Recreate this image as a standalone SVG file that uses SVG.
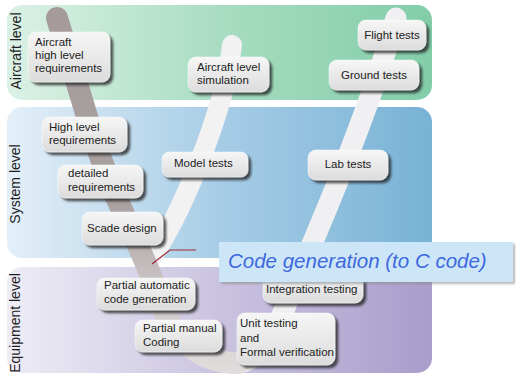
<svg xmlns="http://www.w3.org/2000/svg" width="516" height="375" viewBox="0 0 516 375">
<style>
.box{fill:url(#boxg);stroke:#ffffff;stroke-opacity:.6;stroke-width:.8;filter:url(#sh)}
.t{font-family:"Liberation Sans",Arial,sans-serif;font-size:11.5px;fill:#222}
.lvl{font-family:"Liberation Sans",Arial,sans-serif;font-size:14px;fill:#1e1e1e}
.m{text-anchor:middle}
</style>
<defs>
<linearGradient id="gA" x1="0" y1="0" x2="1" y2="0"><stop offset="0" stop-color="#dcf1e6"/><stop offset="0.55" stop-color="#a4dbbf"/><stop offset="1" stop-color="#82cda8"/></linearGradient>
<linearGradient id="gS" x1="0" y1="0" x2="1" y2="0"><stop offset="0" stop-color="#e4eff8"/><stop offset="0.5" stop-color="#a7cde6"/><stop offset="1" stop-color="#78b2d5"/></linearGradient>
<linearGradient id="gE" x1="0" y1="0" x2="1" y2="0"><stop offset="0" stop-color="#eeedf6"/><stop offset="0.5" stop-color="#cac3e0"/><stop offset="1" stop-color="#a99dcb"/></linearGradient>
<linearGradient id="boxg" x1="0" y1="0" x2="0" y2="1"><stop offset="0" stop-color="#f6f6f6"/><stop offset="1" stop-color="#dcdcdc"/></linearGradient>
<linearGradient id="grayArm" gradientUnits="userSpaceOnUse" x1="0" y1="0" x2="0" y2="370"><stop offset="0" stop-color="#a59b9b"/><stop offset="0.55" stop-color="#a9a0a0"/><stop offset="0.75" stop-color="#c8c1c1"/><stop offset="1" stop-color="#e0dcdc"/></linearGradient>
<filter id="sh" x="-10%" y="-20%" width="130%" height="150%"><feGaussianBlur in="SourceAlpha" stdDeviation="1.2"/><feOffset dx="2.5" dy="2.5" result="b"/><feFlood flood-color="#222" flood-opacity="0.75"/><feComposite in2="b" operator="in"/><feMerge><feMergeNode/><feMergeNode in="SourceGraphic"/></feMerge></filter>
<filter id="sh2" x="-5%" y="-20%" width="110%" height="150%"><feGaussianBlur in="SourceAlpha" stdDeviation="1"/><feOffset dx="1.5" dy="1.5" result="b"/><feFlood flood-color="#888" flood-opacity="0.6"/><feComposite in2="b" operator="in"/><feMerge><feMergeNode/><feMergeNode in="SourceGraphic"/></feMerge></filter>
</defs>
<rect width="516" height="375" fill="#ffffff"/>
<g id="bands">
<rect x="7" y="5" width="425" height="95" rx="15" fill="url(#gA)"/>
<rect x="7" y="107" width="425" height="151" rx="15" fill="url(#gS)"/>
<rect x="7" y="267" width="425" height="106" rx="15" fill="url(#gE)"/>
<text class="lvl m" transform="translate(21,51) rotate(-90)">Aircraft level</text>
<text class="lvl m" transform="translate(20,184) rotate(-90)">System level</text>
<text class="lvl m" transform="translate(20,323) rotate(-90)">Equipment level</text>
</g>
<g id="connectors" fill="none" stroke-linecap="round">
<path d="M148,262 C180,220 225,110 232,45" stroke="#f2f2f2" stroke-width="20"/>
<path d="M235,363 C255,363 268,345 280,320 C300,270 360,140 396,18" stroke="#f0eff1" stroke-width="21"/>
<path d="M57,18 L82,100 C95,145 108,180 122,210 C140,250 150,270 162,305 C175,340 200,363 238,363" stroke="url(#grayArm)" stroke-width="22"/>
<polyline points="152,264 170,250 196,250" stroke="#a0283a" stroke-width="1.2" stroke-linecap="butt"/>
</g>
<g id="n-aircraft-hlr"><rect class="box" x="28" y="32" width="82" height="50" rx="8"/><text class="t" x="35" y="46">Aircraft</text><text class="t" x="35" y="59">high level</text><text class="t" x="35" y="72">requirements</text></g>
<g id="n-aircraft-sim"><rect class="box" x="188" y="57" width="81" height="35" rx="8"/><text class="t" x="197" y="71">Aircraft level</text><text class="t" x="197" y="84">simulation</text></g>
<g id="n-flight"><rect class="box" x="358" y="20" width="68" height="30" rx="8"/><text class="t m" x="392" y="39">Flight tests</text></g>
<g id="n-ground"><rect class="box" x="329" y="60" width="90" height="30" rx="8"/><text class="t m" x="374" y="79">Ground tests</text></g>
<g id="n-hlr"><rect class="box" x="42" y="117" width="85" height="35" rx="8"/><text class="t" x="49" y="131">High level</text><text class="t" x="49" y="144">requirements</text></g>
<g id="n-detailed"><rect class="box" x="58" y="165" width="85" height="33" rx="8"/><text class="t" x="68" y="177">detailed</text><text class="t" x="68" y="191">requirements</text></g>
<g id="n-scade"><rect class="box" x="82" y="212" width="81" height="33" rx="8"/><text class="t" x="87" y="232">Scade design</text></g>
<g id="n-model"><rect class="box" x="162" y="152" width="86" height="25" rx="7"/><text class="t" x="174" y="167">Model tests</text></g>
<g id="n-lab"><rect class="box" x="308" y="150" width="80" height="30" rx="8"/><text class="t m" x="348" y="168">Lab tests</text></g>
<g id="n-pacg"><rect class="box" x="97" y="278" width="98" height="32" rx="8"/><text class="t" x="104" y="289">Partial automatic</text><text class="t" x="104" y="303">code generation</text></g>
<g id="n-pmc"><rect class="box" x="135" y="320" width="87" height="32" rx="8"/><text class="t" x="143" y="332">Partial manual</text><text class="t" x="143" y="346">Coding</text></g>
<g id="n-integ"><rect class="box" x="263" y="270" width="100" height="33" rx="8"/><text class="t" x="266" y="293">Integration testing</text></g>
<g id="n-unit"><rect class="box" x="237" y="313" width="98" height="52" rx="8"/><text class="t" x="240" y="327">Unit testing</text><text class="t" x="240" y="342">and</text><text class="t" x="240" y="356">Formal verification</text></g>
<g id="banner"><rect x="219" y="242" width="294" height="40" fill="#cde6f7" filter="url(#sh2)"/><text x="228" y="268" font-family="Liberation Sans,Arial,sans-serif" font-size="20.5" font-style="italic" fill="#3d68de">Code generation (to C code)</text></g>
</svg>
